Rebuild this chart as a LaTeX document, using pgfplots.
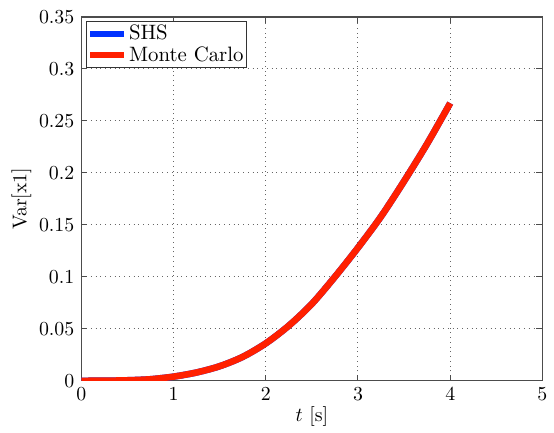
\documentclass[border=0pt]{standalone}
\usepackage{pgfplots}
\pgfplotsset{compat=1.18}
\definecolor{shsblue}{RGB}{0,50,255}
\definecolor{mcred}{RGB}{255,32,0}
\pgfplotstableread{
t y
0 0
0.25 0.0001
0.5 0.0005
0.75 0.0015
1 0.004
1.25 0.008
1.5 0.014
1.75 0.023
2 0.036
2.25 0.053
2.5 0.074
2.75 0.100
3 0.128
3.25 0.158
3.5 0.192
3.75 0.228
4 0.267
}\shsdata
\pgfplotstableread{
t y
0 0
0.25 0.0001
0.5 0.0005
0.75 0.0015
1 0.004
1.25 0.008
1.5 0.014
1.75 0.023
2 0.036
2.25 0.053
2.5 0.074
2.75 0.100
3 0.128
3.25 0.158
3.5 0.192
3.75 0.228
4 0.267
}\mcdata
\begin{document}
\begin{tikzpicture}
\begin{axis}[
  scale only axis, width=232.5pt, height=183.5pt,
  xmin=0, xmax=5, ymin=0, ymax=0.35,
  xtick={0,1,2,3,4,5},
  ytick={0,0.05,0.1,0.15,0.2,0.25,0.3,0.35},
  scaled y ticks=false,
  yticklabel style={/pgf/number format/fixed, /pgf/number format/precision=2},
  grid=major,
  major grid style={black!60, dotted, line width=0.5pt},
  tick align=inside,
  major tick length=3pt,
  tick style={black!70, line width=0.5pt},
  axis line style={black!70, line width=0.7pt},
  xlabel={$t$ [s]}, ylabel={Var[x1]},
  xlabel style={at={(axis description cs:0.5,-0.098)}, anchor=center},
  ylabel style={at={(axis description cs:-0.13,0.5)}, anchor=center},
  legend style={at={(axis description cs:0.011,0.986)}, anchor=north west,
    draw=black!80, line width=0.5pt, inner sep=0.5pt, outer sep=0pt,
    font=\fontsize{10.5}{10.5}\selectfont, row sep=0pt,
    nodes={inner sep=1pt},
    legend cell align=left},
  legend image code/.code={\draw[#1, line width=3pt] (0pt,0pt) -- (17pt,0pt);},
]
\addplot[shsblue, line width=3.3pt, smooth] table[x=t, y=y] {\shsdata};
\addlegendentry{SHS}
\addplot[mcred, line width=3.3pt, smooth] table[x=t, y=y] {\mcdata};
\addlegendentry{Monte Carlo}
\end{axis}
\path ([xshift=-41pt, yshift=-25pt]current axis.south west) rectangle ([xshift=3.5pt, yshift=8.5pt]current axis.north east);
\end{tikzpicture}
\end{document}
